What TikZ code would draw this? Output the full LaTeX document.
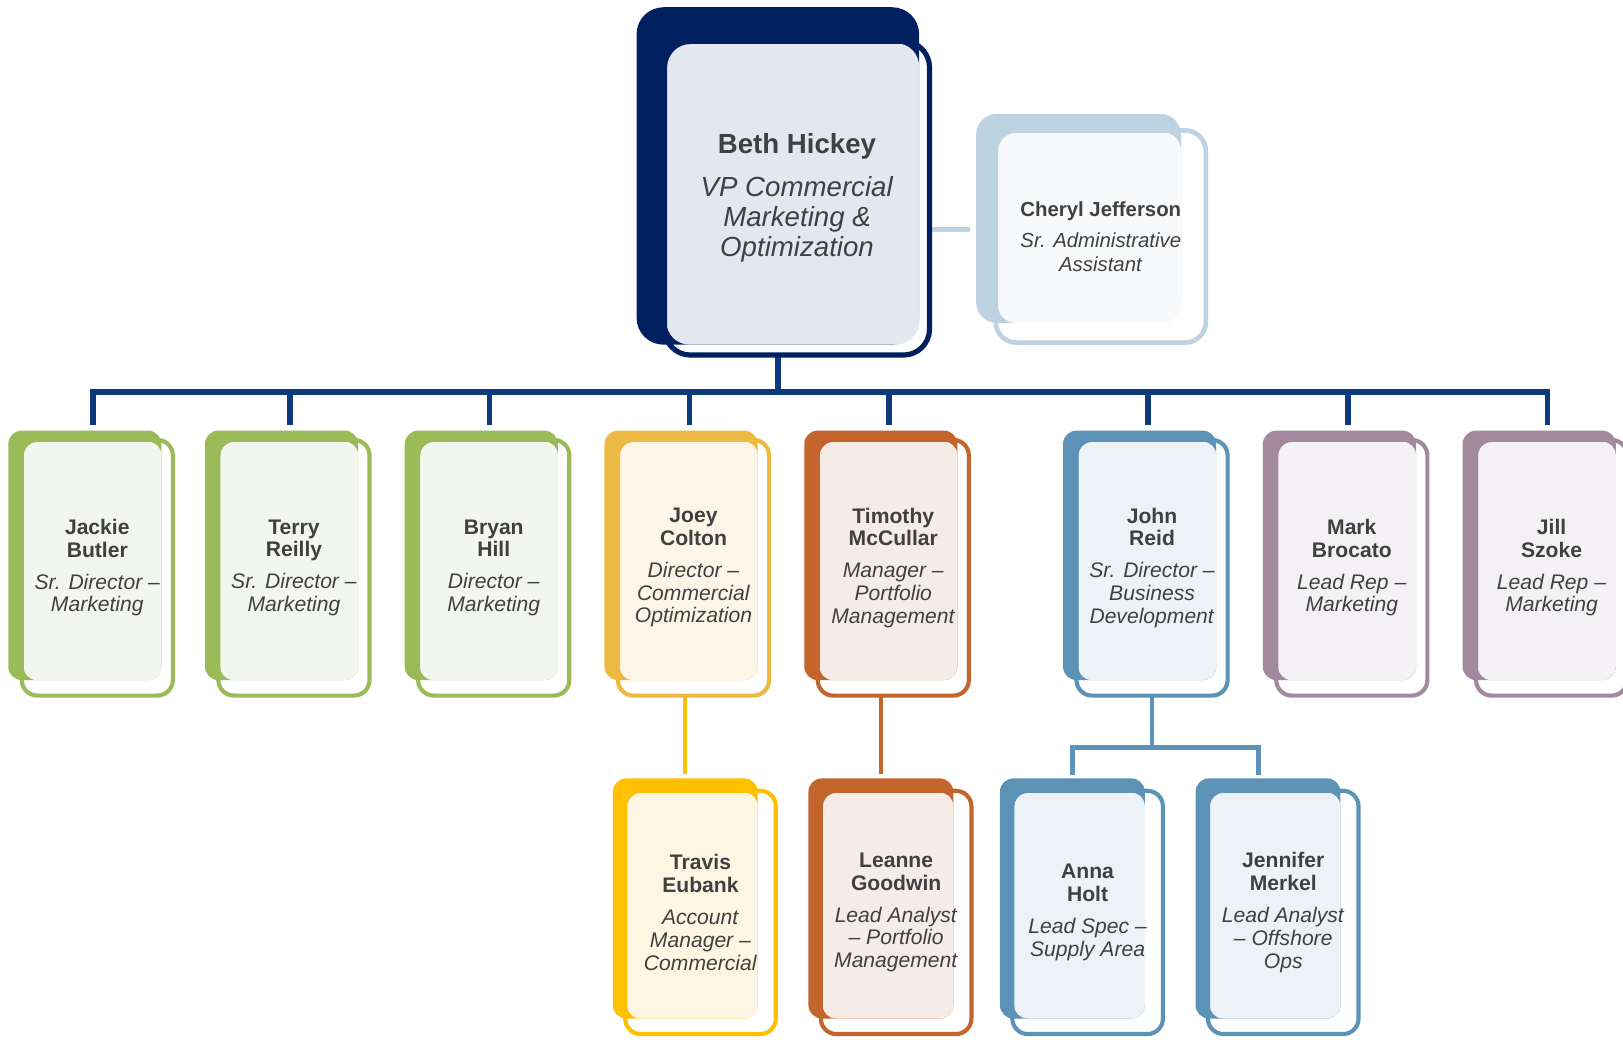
\documentclass[tikz,border=0pt]{standalone}
\usepackage{fontspec}
\setmainfont{Liberation Sans}
\usetikzlibrary{backgrounds}

\definecolor{navy}{HTML}{002060}
\definecolor{busblue}{HTML}{0C3A7D}
\definecolor{headtint}{HTML}{E4E7EF}
\definecolor{aideblue}{HTML}{BED3E2}
\definecolor{aidetint}{HTML}{F7F9FB}
\definecolor{leaf}{HTML}{9BBB59}
\definecolor{leaftint}{HTML}{F3F6EE}
\definecolor{honey}{HTML}{ECB942}
\definecolor{honeytint}{HTML}{FEF5E9}
\definecolor{amber}{HTML}{FFC000}
\definecolor{ambertint}{HTML}{FFF5E3}
\definecolor{rust}{HTML}{C4652E}
\definecolor{rusttint}{HTML}{F6ECE7}
\definecolor{steel}{HTML}{5D92B7}
\definecolor{steeltint}{HTML}{EDF2F7}
\definecolor{mauve}{HTML}{A3899D}
\definecolor{mauvetint}{HTML}{F3F1F4}
\definecolor{ink}{HTML}{404040}

\tikzset{
  card back/.style={inner sep=0pt, outer sep=0pt, anchor=north west, rounded corners=2.6mm},
  card frame/.style={inner sep=0pt, outer sep=0pt, anchor=north west, rounded corners=3mm,
    line width=0.8mm, align=center, text=ink, font=\fontsize{11.6}{12.5}\selectfont},
  head back/.style={card back, minimum width=54.6mm, minimum height=65.2mm, rounded corners=5.2mm},
  head frame/.style={card frame, minimum width=51.2mm, minimum height=60.6mm, rounded corners=5mm,
    line width=1mm, xshift=5.4mm, yshift=-6.6mm, font=\fontsize{15.2}{16.6}\selectfont},
  head panel/.style={rounded corners=4.5mm},
  aide back/.style={card back, minimum width=39.6mm, minimum height=40.4mm, rounded corners=4mm},
  aide frame/.style={card frame, minimum width=40.6mm, minimum height=41mm, rounded corners=4mm,
    line width=0.9mm, xshift=3.8mm, yshift=-3.2mm, font=\fontsize{11.2}{13}\selectfont},
  aide panel/.style={rounded corners=3.6mm},
  dept back/.style={card back, minimum width=29.6mm, minimum height=48.2mm},
  dept frame/.style={card frame, minimum width=29.2mm, minimum height=49.4mm, xshift=2.6mm, yshift=-1.8mm},
  dept panel/.style={rounded corners=2.6mm},
  unit back/.style={card back, minimum width=28mm, minimum height=46.4mm},
  unit frame/.style={card frame, minimum width=29.1mm, minimum height=47mm, xshift=2.4mm, yshift=-2.4mm},
  unit panel/.style={rounded corners=2.6mm},
  bus/.style={draw=busblue, line width=1.1mm},
  aide link/.style={draw=aideblue, line width=1mm},
  kid link/.style={line width=0.85mm}
}

% #1 kind, #2 name, #3 corner of the back card, #4 colour, #5 tint, #6 text
\newcommand{\orgcard}[6]{%
  \begin{scope}[on background layer]
    \node[#1 back, fill=#4] (#2-b) at #3 {};
  \end{scope}
  \node[#1 frame, draw=#4] (#2) at (#2-b.north west) {#6};
  \begin{scope}[on background layer]
    \fill[#5, #1 panel] ([xshift=0.35mm,yshift=-0.35mm]#2.north west) rectangle (#2-b.south east);
  \end{scope}}

\begin{document}
\begin{tikzpicture}[x=0.2mm,y=-0.2mm]
  \useasboundingbox (0,0) rectangle (1568,1004);
  \begin{scope}[on background layer]
    \fill[white] (0,0) rectangle (1568,1004);
  \end{scope}

  % top
  \orgcard{head}{beth}{(615,7)}{navy}{headtint}
    {\textbf{Beth Hickey}\\[2.4mm]\textit{VP Commercial}\\\textit{Marketing \&}\\\textit{Optimization}}
  \orgcard{aide}{cheryl}{(943,110)}{aideblue}{aidetint}
    {\textbf{Cheryl Jefferson}\\[1.6mm]\textit{Sr. Administrative}\\\textit{Assistant}}

  % first row
  \orgcard{dept}{jackie}{(8,416)}{leaf}{leaftint}
    {\textbf{Jackie}\\\textbf{Butler}\\[1.8mm]\textit{Sr. Director –}\\\textit{Marketing}}
  \orgcard{dept}{terry}{(198,416)}{leaf}{leaftint}
    {\textbf{Terry}\\\textbf{Reilly}\\[1.8mm]\textit{Sr. Director –}\\\textit{Marketing}}
  \orgcard{dept}{bryan}{(391,416)}{leaf}{leaftint}
    {\textbf{Bryan}\\\textbf{Hill}\\[1.8mm]\textit{Director –}\\\textit{Marketing}}
  \orgcard{dept}{joey}{(584,416)}{honey}{honeytint}
    {\textbf{Joey}\\\textbf{Colton}\\[1.8mm]\textit{Director –}\\\textit{Commercial}\\\textit{Optimization}}
  \orgcard{dept}{timothy}{(777,416)}{rust}{rusttint}
    {\textbf{Timothy}\\\textbf{McCullar}\\[1.8mm]\textit{Manager –}\\\textit{Portfolio}\\\textit{Management}}
  \orgcard{dept}{john}{(1027,416)}{steel}{steeltint}
    {\textbf{John}\\\textbf{Reid}\\[1.8mm]\textit{Sr. Director –}\\\textit{Business}\\\textit{Development}}
  \orgcard{dept}{mark}{(1220,416)}{mauve}{mauvetint}
    {\textbf{Mark}\\\textbf{Brocato}\\[1.8mm]\textit{Lead Rep –}\\\textit{Marketing}}
  \orgcard{dept}{jill}{(1413,416)}{mauve}{mauvetint}
    {\textbf{Jill}\\\textbf{Szoke}\\[1.8mm]\textit{Lead Rep –}\\\textit{Marketing}}

  % second row
  \orgcard{unit}{travis}{(592,752)}{amber}{ambertint}
    {\textbf{Travis}\\\textbf{Eubank}\\[1.8mm]\textit{Account}\\\textit{Manager –}\\\textit{Commercial}}
  \orgcard{unit}{leanne}{(781,752)}{rust}{rusttint}
    {\textbf{Leanne}\\\textbf{Goodwin}\\[1.8mm]\textit{Lead Analyst}\\\textit{– Portfolio}\\\textit{Management}}
  \orgcard{unit}{anna}{(966,752)}{steel}{steeltint}
    {\textbf{Anna}\\\textbf{Holt}\\[1.8mm]\textit{Lead Spec –}\\\textit{Supply Area}}
  \orgcard{unit}{jennifer}{(1155,752)}{steel}{steeltint}
    {\textbf{Jennifer}\\\textbf{Merkel}\\[1.8mm]\textit{Lead Analyst}\\\textit{– Offshore}\\\textit{Ops}}

  \coordinate (bus) at (0,379);
  \coordinate (johnbar) at (0,722);

  \begin{scope}[on background layer]
    \draw[aide link, shorten >=1.2mm] ([yshift=-2.1mm]beth.east |- cheryl-b.west) -- ([yshift=-2.1mm]cheryl-b.west);
    \draw[bus] (beth-b.south |- beth.south) -- (beth-b.south |- bus);
    \draw[bus] ([xshift=1.6mm,yshift=1mm]jackie-b.north) |- ([xshift=1.6mm]jill-b.north |- bus)
      -- ([xshift=1.6mm,yshift=1mm]jill-b.north);
    \foreach \n in {terry,bryan,joey,timothy,john,mark}
      \draw[bus] ([xshift=1.6mm]\n-b.north |- bus) -- ([xshift=1.6mm,yshift=1mm]\n-b.north);

    \draw[kid link, draw=amber] (travis-b.north |- joey.south) -- ([yshift=0.8mm]travis-b.north);
    \draw[kid link, draw=rust] (leanne-b.north |- timothy.south) -- ([yshift=0.8mm]leanne-b.north);
    \draw[kid link, draw=steel] (john.south) -- (john.south |- johnbar);
    \draw[kid link, draw=steel] ([yshift=0.6mm]anna-b.north) |- ([xshift=-1.8mm]jennifer-b.north |- johnbar)
      -- ([xshift=-1.8mm,yshift=0.6mm]jennifer-b.north);
  \end{scope}
\end{tikzpicture}
\end{document}
